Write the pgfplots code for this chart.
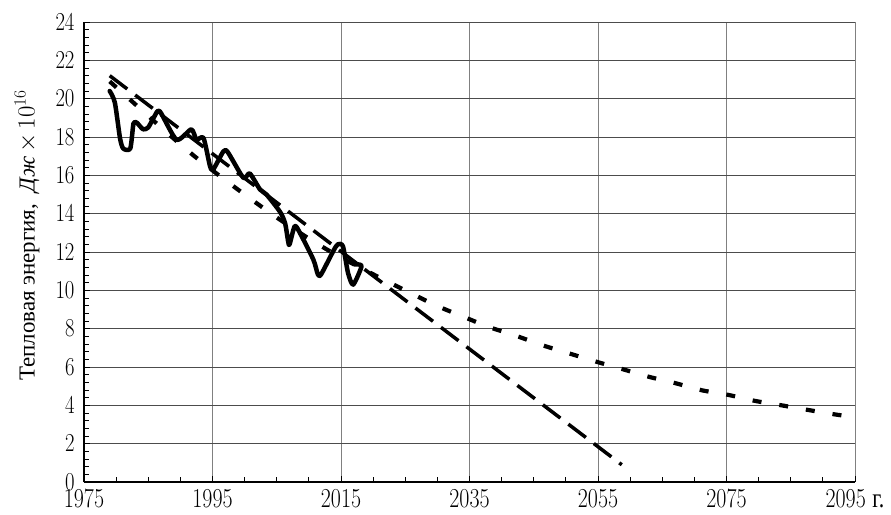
\documentclass[border=0pt]{standalone}
\usepackage{graphicx}
\usepackage{pgfplots}
\pgfplotsset{compat=1.18}
\usepackage{fontspec}
\newfontfamily\cyr{Liberation Serif}
\begin{document}
\begin{tikzpicture}
\begin{axis}[
  scale only axis, width=771bp, height=460bp,
  xmin=1975, xmax=2095, ymin=0, ymax=24,
  xtick={1975,1995,2015,2035,2055,2075,2095},
  xticklabels={1975,1995,2015,2035,2055,2075,{2095 {\cyr г.}}},
  ytick={0,2,...,24},
  minor x tick num=3, minor y tick num=4,
  tick align=inside,
  axis lines*=left,
  axis line style={black, line width=1.4bp},
  tick style={black, line width=0.9bp},
  major tick length=6bp, minor tick length=5bp,
  grid=major,
  major x grid style={black!50, line width=0.8bp},
  major y grid style={black!70, line width=0.8bp},
  tick label style={font=\fontsize{22}{26}\selectfont, yscale=1.25},
  yticklabel style={xshift=-6bp},
  xticklabel style={yshift=-2bp},
  ylabel={{\cyr Тепловая энергия,\ \ \itshape Дж}\,$\times\,10^{16}$},
  ylabel style={at={(axis description cs:-0.074,0.536)}, anchor=center, font=\fontsize{23}{27}\selectfont},
  clip=false,
]
\addplot[black, line width=4.5bp, line join=round, line cap=round, smooth, tension=0.4] coordinates {
(1979.0,20.4) (1979.8,19.8) (1980.6,17.95) (1981.1,17.4) (1982.2,17.4) (1982.7,18.7) (1983.2,18.75)
(1984.2,18.4) (1985.0,18.5) (1986.0,19.1) (1986.8,19.34) (1989.4,17.86) (1991.7,18.4) (1992.5,17.86)
(1993.6,17.95) (1994.6,16.5) (1995.1,16.3) (1996.7,17.25) (1997.4,17.2) (1999.8,15.87) (2000.8,16.1)
(2002.4,15.26) (2003.4,15.0) (2005.5,14.1) (2006.3,13.5) (2006.8,12.5) (2007.0,12.4) (2007.8,13.35)
(2008.6,13.0) (2010.7,11.6) (2011.4,10.83) (2011.9,10.83) (2013.8,12.05) (2014.5,12.4) (2015.3,12.3)
(2016.1,10.9) (2016.9,10.3) (2018.2,11.27) (2017.1,11.35)
};
\addplot[black, line width=3.5bp, dash pattern=on 22bp off 10bp] coordinates {
(1979,21.2) (2058.7,0.9)
};
\addplot[black, line width=4.2bp, dash pattern=on 9bp off 18bp, smooth] coordinates {
(1979,20.9) (1983,19.7) (1988,18.2) (1992,17.05) (1996,16.0) (2000,15.0) (2005,13.8) (2010,12.7)
(2014,11.9) (2018,11.18) (2022,10.5) (2026,9.83) (2030,9.18) (2034,8.63) (2038,8.09) (2042.3,7.62)
(2046.4,7.13) (2050.6,6.70) (2054.8,6.27) (2058.8,5.89) (2062.9,5.49) (2067,5.16) (2071.1,4.79)
(2075.2,4.55) (2079.3,4.24) (2083.4,4.01) (2087.5,3.77) (2091.6,3.54) (2093.5,3.45)
};
\end{axis}
\pgfresetboundingbox
\path (-84bp,-33bp) rectangle (807bp,482bp);
\end{tikzpicture}
\end{document}
